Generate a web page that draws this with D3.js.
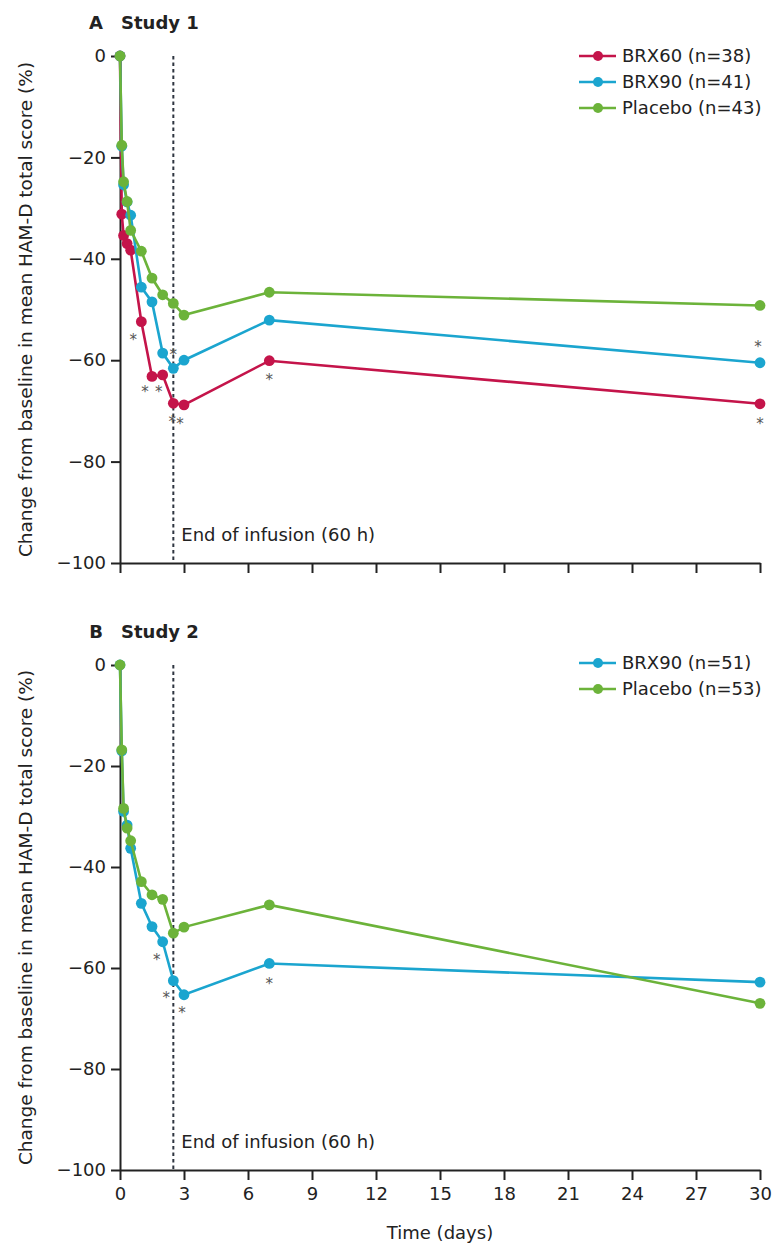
<!DOCTYPE html>
<html>
<head>
<meta charset="utf-8">
<script src="https://cdn.jsdelivr.net/npm/d3@7"></script>
<style>
  html, body { margin: 0; padding: 0; background: #fff; }
  svg text { font-family: "DejaVu Sans", sans-serif; fill: #222; }
</style>
</head>
<body>
<div id="chart"></div>
<script>
// Assessment times (days): 0, 2h, 4h, 8h, 12h, 24h, 36h, 48h, 60h, 72h, day 7, day 30
var timeDays = [0, 0.083, 0.167, 0.333, 0.5, 1, 1.5, 2, 2.5, 3, 7, 30];
var xTicks = [0, 3, 6, 9, 12, 15, 18, 21, 24, 27, 30];
var yTicks = [0, -20, -40, -60, -80, -100];

// Study 1 (% change from baseline in HAM-D)
var brx60Study1 = [0, -31.2, -35.4, -37.0, -38.3, -52.4, -63.2, -62.9, -68.5, -68.8, -60.1, -68.6];
var brx90Study1 = [0, -17.8, -25.4, -28.8, -31.4, -45.6, -48.5, -58.6, -61.6, -60.0, -52.1, -60.5];
var placeboStudy1 = [0, -17.6, -24.8, -28.7, -34.4, -38.5, -43.8, -47.1, -48.8, -51.1, -46.6, -49.2];

// Study 2
var brx90Study2 = [0, -17.0, -29.0, -31.7, -36.3, -47.2, -51.8, -54.8, -62.5, -65.3, -59.1, -62.8];
var placeboStudy2 = [0, -16.8, -28.4, -32.3, -34.8, -42.9, -45.5, -46.4, -53.1, -51.9, -47.5, -67.0];

var legendStudy1 = ["BRX60 (n=38)", "BRX90 (n=41)", "Placebo (n=43)"];
var legendStudy2 = ["BRX90 (n=51)", "Placebo (n=53)"];

// significant time points (p<0.05) for each series: [series, time]
var sigStudy1 = [["BRX60", 1], ["BRX60", 1.5], ["BRX60", 2], ["BRX90", 2.5], ["BRX60", 2.5], ["BRX60", 3], ["BRX60", 7], ["BRX90", 30], ["BRX60", 30]];
var sigStudy2 = [["BRX90", 2], ["BRX90", 2.5], ["BRX90", 3], ["BRX90", 7]];

var infusionEnd = 2.5;

var colors = { BRX60: "#c4144a", BRX90: "#1ba5cf", Placebo: "#6cb33a" };

var width = 779, height = 1247;
var svg = d3.select("#chart").append("svg")
    .attr("width", width)
    .attr("height", height);

var x = d3.scaleLinear().domain([0, 30]).range([120, 760]);

// where each asterisk sits relative to its point (px)
var starPlace = {
    "S1-BRX60-1": [-8, 15], "S1-BRX60-1.5": [-7, 13], "S1-BRX60-2": [-4, 14],
    "S1-BRX90-2.5": [0, -16], "S1-BRX60-2.5": [-1, 16], "S1-BRX60-3": [-4, 16],
    "S1-BRX60-7": [0, 16], "S1-BRX90-30": [-2, -19], "S1-BRX60-30": [0, 17],
    "S2-BRX90-2": [-6, 15], "S2-BRX90-2.5": [-7, 14], "S2-BRX90-3": [-2, 15], "S2-BRX90-7": [0, 18]
};

function drawPanel(cfg) {
    var y = d3.scaleLinear().domain([-100, 0]).range([cfg.bottom, cfg.top]);
    var g = svg.append("g");

    // axes
    g.append("g")
        .attr("transform", "translate(" + x(0) + ",0)")
        .call(d3.axisLeft(y).tickValues(yTicks).tickSize(9).tickSizeOuter(0).tickPadding(5)
            .tickFormat(d3.format("d")));
    g.append("g")
        .attr("transform", "translate(0," + cfg.bottom + ")")
        .call(d3.axisBottom(x).tickValues(xTicks).tickSize(10).tickSizeOuter(0).tickPadding(7)
            .tickFormat(cfg.showXLabels ? d3.format("d") : ""));
    g.selectAll(".domain, .tick line").attr("stroke", "#222").attr("stroke-width", 2);
    g.selectAll(".tick text").style("font-family", "DejaVu Sans, sans-serif")
        .style("font-size", "18px").attr("fill", "#222");

    // y label
    g.append("text")
        .attr("transform", "translate(32," + ((cfg.top + cfg.bottom) / 2) + ") rotate(-90)")
        .attr("text-anchor", "middle")
        .style("font-size", "18.5px")
        .text("Change from baseline in mean HAM-D total score (%)");

    // title
    g.append("text").attr("x", 103).attr("y", cfg.top - 27)
        .attr("text-anchor", "end").style("font-size", "18px").style("font-weight", "bold")
        .text(cfg.letter);
    g.append("text").attr("x", 121).attr("y", cfg.top - 27)
        .style("font-size", "18px").style("font-weight", "bold")
        .text(cfg.title);

    // end of infusion
    g.append("line")
        .attr("x1", x(infusionEnd)).attr("x2", x(infusionEnd))
        .attr("y1", y(0)).attr("y2", y(-100))
        .attr("stroke", "#2e3540").attr("stroke-width", 2)
        .attr("stroke-dasharray", "3.5,3");
    g.append("text")
        .attr("x", x(infusionEnd) + 8).attr("y", cfg.bottom - 22)
        .style("font-size", "18px")
        .text("End of infusion (60 h)");

    // series
    var line = d3.line().x(function (d) { return x(d.t); }).y(function (d) { return y(d.v); });
    cfg.series.forEach(function (s) {
        var pts = timeDays.map(function (t, i) { return { t: t, v: s.values[i] }; });
        g.append("path").datum(pts)
            .attr("d", line).attr("fill", "none")
            .attr("stroke", colors[s.key]).attr("stroke-width", 2.6);
        g.selectAll(null).data(pts).enter().append("circle")
            .attr("cx", function (d) { return x(d.t); })
            .attr("cy", function (d) { return y(d.v); })
            .attr("r", 5.4)
            .attr("fill", colors[s.key]);
    });

    // asterisks
    cfg.sig.forEach(function (a) {
        var s = cfg.series.filter(function (d) { return d.key === a[0]; })[0];
        var i = timeDays.indexOf(a[1]);
        var off = starPlace[cfg.id + "-" + a[0] + "-" + a[1]] || [0, 16];
        g.append("text")
            .attr("x", x(a[1]) + off[0])
            .attr("y", y(s.values[i]) + off[1] + 8)
            .attr("text-anchor", "middle")
            .style("font-size", "15px")
            .style("fill", "#555")
            .text("*");
    });

    // legend
    var leg = g.append("g").selectAll("g").data(cfg.series.map(function (s, i) {
        return { key: s.key, label: cfg.legend[i] };
    })).enter().append("g")
        .attr("transform", function (d, i) { return "translate(0," + (cfg.legendTop + i * 26) + ")"; });
    leg.append("line").attr("x1", 579).attr("x2", 616)
        .attr("stroke", function (d) { return colors[d.key]; }).attr("stroke-width", 2.6);
    leg.append("circle").attr("cx", 598).attr("r", 5)
        .attr("fill", function (d) { return colors[d.key]; });
    leg.append("text").attr("x", 622).attr("dy", "0.35em")
        .style("font-size", "18px")
        .text(function (d) { return d.label; });
}

drawPanel({
    id: "S1", letter: "A", title: "Study 1", top: 56, bottom: 563, showXLabels: false,
    legend: legendStudy1, legendTop: 56, sig: sigStudy1,
    series: [
        { key: "BRX60", values: brx60Study1 },
        { key: "BRX90", values: brx90Study1 },
        { key: "Placebo", values: placeboStudy1 }
    ]
});

drawPanel({
    id: "S2", letter: "B", title: "Study 2", top: 665, bottom: 1170, showXLabels: true,
    legend: legendStudy2, legendTop: 663, sig: sigStudy2,
    series: [
        { key: "BRX90", values: brx90Study2 },
        { key: "Placebo", values: placeboStudy2 }
    ]
});

svg.append("text")
    .attr("x", (x(0) + x(30)) / 2).attr("y", 1239)
    .attr("text-anchor", "middle")
    .style("font-size", "18px")
    .text("Time (days)");
</script>
</body>
</html>
